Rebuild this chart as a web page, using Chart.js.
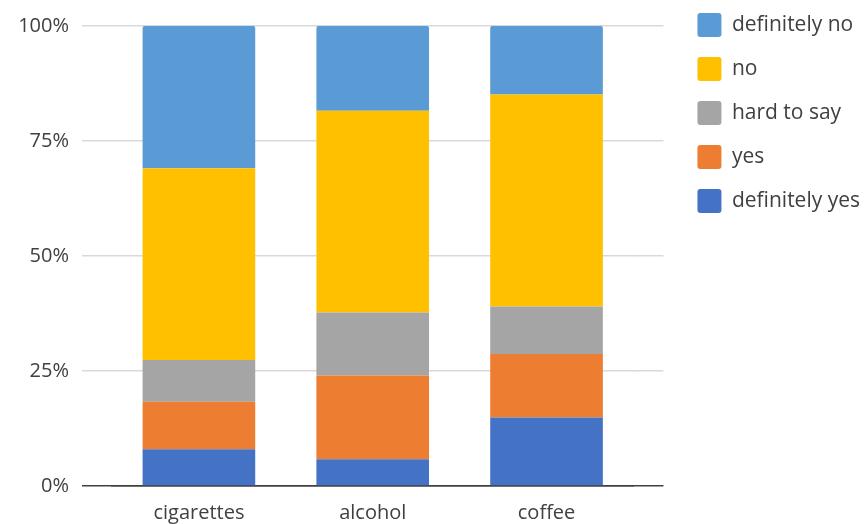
<!DOCTYPE html>
<html>
<head>
<meta charset="utf-8">
<script src="https://cdn.jsdelivr.net/npm/chart.js@4.4.1/dist/chart.umd.min.js"></script>
<style>
  html, body { margin: 0; padding: 0; background: #fff; overflow: hidden; }
</style>
</head>
<body>
<canvas id="grafico" width="867" height="524"></canvas>
<script>
// === Datos (porcentajes) ===
const categorias = ["cigarettes", "alcohol", "coffee"];
const definitelyYes = [8.0, 5.8, 14.9];
const yes = [10.3, 18.2, 13.8];
const hardToSay = [9.1, 13.7, 10.3];
const no = [41.7, 43.9, 46.1];
const definitelyNo = [30.9, 18.4, 14.9];
const ticksY = [0, 25, 50, 75, 100];

// === Colores ===
const texto = "#404040";
const grilla = "#d9d9d9";
const eje = "#404040";
const fuente = "'Open Sans', sans-serif";

// la linea del 0% va oscura, el resto gris claro
const colorGrilla = (ctx) => (ctx.tick && ctx.tick.value === 0 ? eje : grilla);

// margen negativo a la izquierda: asi la leyenda tiene ancho suficiente
// (chart.js limita cada caja vertical a ancho/2/cantidad de cajas)
const extraIzq = 400;

new Chart(document.getElementById("grafico"), {
  type: "bar",
  data: {
    labels: categorias,
    datasets: [
      { label: "definitely yes", data: definitelyYes, backgroundColor: "#4472C4" },
      { label: "yes", data: yes, backgroundColor: "#ED7D31" },
      { label: "hard to say", data: hardToSay, backgroundColor: "#A5A5A5" },
      { label: "no", data: no, backgroundColor: "#FFC000" },
      { label: "definitely no", data: definitelyNo, backgroundColor: "#5B9BD5", borderRadius: 2 }
    ]
  },
  options: {
    responsive: false,
    devicePixelRatio: 1,
    animation: false,
    layout: {
      padding: { top: -7, right: -3, bottom: 0, left: -extraIzq }
    },
    datasets: {
      bar: { barPercentage: 0.648, categoryPercentage: 1 }
    },
    scales: {
      x: {
        stacked: true,
        grid: { display: false, drawTicks: false },
        border: { display: true, color: eje, width: 1.5 },
        ticks: { color: texto, font: { family: fuente, size: 20 }, padding: 15 },
        afterFit: (s) => { s.height = 38; }
      },
      x2: {
        position: "top",
        grid: { display: false, drawTicks: false },
        border: { display: false },
        ticks: { display: false },
        afterFit: (s) => { s.height = 33; }
      },
      y: {
        stacked: true,
        min: ticksY[0],
        max: ticksY[ticksY.length - 1],
        grid: { color: colorGrilla, lineWidth: 1.5, tickLength: 30 },
        border: { display: false },
        ticks: {
          stepSize: 25,
          color: texto,
          font: { family: fuente, size: 20 },
          padding: 13,
          callback: (v) => v + "%"
        },
        afterFit: (s) => { s.width = 112 + extraIzq; }
      },
      y2: {
        position: "right",
        min: ticksY[0],
        max: ticksY[ticksY.length - 1],
        grid: { color: colorGrilla, lineWidth: 1.5, tickLength: 30, drawOnChartArea: false },
        border: { display: false },
        ticks: { stepSize: 25, display: false },
        afterFit: (s) => { s.width = 44; }
      }
    },
    plugins: {
      tooltip: { enabled: false },
      legend: {
        position: "right",
        align: "start",
        reverse: true,
        labels: {
          color: texto,
          font: { family: fuente, size: 21 },
          boxWidth: 24,
          boxHeight: 24,
          padding: 20,
          useBorderRadius: true,
          borderRadius: 3
        }
      }
    }
  }
});
</script>
</body>
</html>
